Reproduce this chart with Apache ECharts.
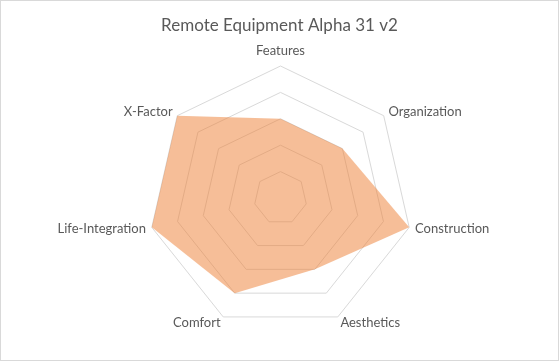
<!DOCTYPE html>
<html>
<head>
<meta charset="utf-8">
<script src="https://cdn.jsdelivr.net/npm/echarts@6/dist/echarts.min.js"></script>
<style>
html,body{margin:0;padding:0;background:#fff;}
#chart{width:559px;height:361px;box-sizing:border-box;border:1px solid #d9d9d9;}
</style>
</head>
<body>
<div id="chart"></div>
<script>
const titleText = 'Remote Equipment Alpha 31 v2';
const categories = ['Features', 'Organization', 'Construction', 'Aesthetics', 'Comfort', 'Life-Integration', 'X-Factor'];
const values = [3, 3, 5, 3, 4, 5, 5];
const maxValue = 5;

// ECharts radar runs counter-clockwise; reorder (keeping the first) so it reads clockwise.
const order = [0].concat(categories.map((_, i) => i).slice(1).reverse());
const cwCategories = order.map(i => categories[i]);
const cwValues = order.map(i => values[i]);

const chart = echarts.init(document.getElementById('chart'), null, {renderer: 'canvas'});
chart.setOption({
  animation: false,
  backgroundColor: '#fff',
  title: {
    text: titleText,
    left: 'center',
    top: 11,
    textStyle: {fontFamily: 'Lato', fontSize: 17, fontWeight: 'normal', color: '#595959'}
  },
  radar: {
    center: [279.5, 197],
    radius: 132,
    startAngle: 90,
    splitNumber: 5,
    shape: 'polygon',
    indicator: cwCategories.map(n => ({name: n, max: maxValue, min: 0})),
    axisName: {color: '#595959', fontFamily: 'Lato', fontSize: 13, padding: [0, 0, 3, 0]},
    nameGap: 6,
    axisLine: {show: false},
    splitLine: {lineStyle: {color: '#d9d9d9', width: 1}},
    splitArea: {show: false}
  },
  series: [{
    type: 'radar',
    symbol: 'none',
    lineStyle: {width: 0, opacity: 0},
    areaStyle: {color: '#ED7D31', opacity: 0.5},
    data: [{value: cwValues, name: titleText}]
  }]
});
</script>
</body>
</html>
